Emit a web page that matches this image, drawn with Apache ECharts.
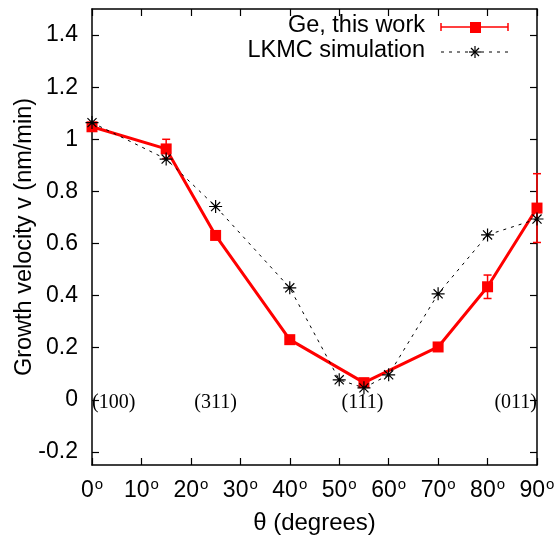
<!DOCTYPE html>
<html>
<head>
<meta charset="utf-8">
<script src="https://cdn.jsdelivr.net/npm/echarts@6/dist/echarts.min.js"></script>
<style>html,body{margin:0;padding:0;background:#fff}#c{width:558px;height:539px}</style>
</head>
<body>
<div id="c"></div>
<script>
// ---- data ----
const geTheta = [0, 15, 25, 40, 55, 70, 80, 90];
const geV = [1.048, 0.963, 0.631, 0.231, 0.066, 0.203, 0.434, 0.736];
const geErr = [0, 0.037, 0, 0, 0, 0, 0.045, 0.132];
const lkmcTheta = [0, 15, 25, 40, 50, 55, 60, 70, 80, 90];
const lkmcV = [1.064, 0.924, 0.742, 0.43, 0.077, 0.046, 0.096, 0.407, 0.633, 0.694];
const planeLabels = ['(100)', '(311)', '(111)', '(011)'];
const planeTheta = [0, 25, 54.7, 90];
const planeAlign = ['left', 'center', 'center', 'right'];
const xTicks = [0, 10, 20, 30, 40, 50, 60, 70, 80, 90];
const yTicks = [-0.2, 0, 0.2, 0.4, 0.6, 0.8, 1, 1.2, 1.4];
const seriesNames = ['Ge, this work', 'LKMC simulation'];

const FONT = 'Liberation Sans';
const chart = echarts.init(document.getElementById('c'), null, {renderer: 'canvas'});

const geData = geTheta.map((t, i) => [t, geV[i]]);
const errData = geTheta.map((t, i) => [t, geV[i], geErr[i]]);
const lkmcData = lkmcTheta.map((t, i) => [t, lkmcV[i]]);
const labelData = planeTheta.map((t, i) => [t, 0, i]);

const starPath = 'path://M0,5L10,5M5,0L5,10M1.5,1.5L8.5,8.5M8.5,1.5L1.5,8.5';

const axisLine = {show: true, onZero: false, lineStyle: {color: '#000', width: 1.5}};
const tick = {show: true, inside: true, length: 7, lineStyle: {color: '#000', width: 1.2}};

const option = {
  animation: false,
  backgroundColor: '#fff',
  grid: {left: 92, right: 21, top: 9, bottom: 74, containLabel: false, outerBoundsMode: 'none'},
  xAxis: [{
    type: 'value', min: 0, max: 90, interval: 10, position: 'bottom',
    axisLine: axisLine, axisTick: tick, splitLine: {show: false},
    axisLabel: {
      margin: 14,
      formatter: v => '{a|' + v + '}{s|o}',
      rich: {
        a: {fontFamily: FONT, fontSize: 23, color: '#000', lineHeight: 24},
        s: {fontFamily: FONT, fontSize: 15, color: '#000', lineHeight: 24, padding: [0, 0, 12, 1]}
      }
    },
    name: 'θ (degrees)', nameLocation: 'middle', nameGap: 46, nameMoveOverlap: false,
    nameTextStyle: {fontFamily: FONT, fontSize: 24, color: '#000'}
  }, {
    type: 'value', min: 0, max: 90, interval: 10, position: 'top',
    axisLine: axisLine, axisTick: tick, axisLabel: {show: false}, splitLine: {show: false}
  }],
  yAxis: [{
    type: 'value', min: -0.25, max: 1.5, position: 'left',
    axisLine: axisLine,
    axisTick: Object.assign({}, tick, {customValues: yTicks}),
    splitLine: {show: false},
    axisLabel: {customValues: yTicks, fontFamily: FONT, fontSize: 23, color: '#000', margin: 14,
      formatter: v => String(Math.round(v * 10) / 10)},
    name: 'Growth velocity v (nm/min)', nameLocation: 'middle', nameGap: 55, nameMoveOverlap: false,
    nameTextStyle: {fontFamily: FONT, fontSize: 23.5, color: '#000'}
  }, {
    type: 'value', min: -0.25, max: 1.5, position: 'right',
    axisLine: axisLine,
    axisTick: Object.assign({}, tick, {customValues: yTicks}),
    axisLabel: {show: false}, splitLine: {show: false}
  }],
  series: [
    {
      name: seriesNames[0] + ' err', type: 'custom', z: 2,
      data: errData,
      renderItem: function (params, api) {
        const x = api.value(0), y = api.value(1), e = api.value(2);
        if (!e) return null;
        const t = api.coord([x, y + e]);
        const b = api.coord([x, y - e]);
        const w = 4;
        const st = {stroke: '#f00', lineWidth: 1.5};
        return {type: 'group', children: [
          {type: 'line', shape: {x1: t[0], y1: t[1], x2: b[0], y2: b[1]}, style: st},
          {type: 'line', shape: {x1: t[0] - w, y1: t[1], x2: t[0] + w, y2: t[1]}, style: st},
          {type: 'line', shape: {x1: b[0] - w, y1: b[1], x2: b[0] + w, y2: b[1]}, style: st}
        ]};
      }
    },
    {
      name: seriesNames[0], type: 'line', z: 3, data: geData,
      symbol: 'rect', symbolSize: 11, showAllSymbol: true,
      lineStyle: {color: '#f00', width: 3},
      itemStyle: {color: '#f00'}
    },
    {
      name: seriesNames[1], type: 'line', z: 4, data: lkmcData,
      symbol: starPath, symbolSize: 13, showAllSymbol: true,
      lineStyle: {color: '#000', width: 1, type: [3, 5]},
      itemStyle: {color: 'none', borderColor: '#000', borderWidth: 1.2}
    },
    {
      name: 'planes', type: 'custom', z: 5, data: labelData, silent: true,
      renderItem: function (params, api) {
        const p = api.coord([api.value(0), api.value(1)]);
        const i = api.value(2);
        return {type: 'text', x: p[0], y: p[1] + 3, style: {
          text: planeLabels[i], font: '20px "Liberation Serif"', fill: '#000',
          align: planeAlign[i], verticalAlign: 'middle'}};
      }
    }
  ],
  graphic: [
    {type: 'text', right: 558 - 425, top: 14, style: {text: seriesNames[0], font: '23.5px "Liberation Sans"', fill: '#000'}},
    {type: 'text', right: 558 - 425, top: 39, style: {text: seriesNames[1], font: '23.5px "Liberation Sans"', fill: '#000'}},
    {type: 'line', shape: {x1: 441, y1: 27, x2: 508, y2: 27}, style: {stroke: '#f00', lineWidth: 1.5}},
    {type: 'line', shape: {x1: 441, y1: 23, x2: 441, y2: 31}, style: {stroke: '#f00', lineWidth: 1.5}},
    {type: 'line', shape: {x1: 508, y1: 23, x2: 508, y2: 31}, style: {stroke: '#f00', lineWidth: 1.5}},
    {type: 'rect', shape: {x: 470, y: 22, width: 11, height: 11}, style: {fill: '#f00'}},
    {type: 'line', shape: {x1: 441, y1: 52, x2: 508, y2: 52}, style: {stroke: '#000', lineWidth: 1, lineDash: [3, 5]}},
    {type: 'group', x: 469, y: 46, children: [
      {type: 'line', shape: {x1: 0, y1: 6, x2: 12, y2: 6}, style: {stroke: '#000', lineWidth: 1.2}},
      {type: 'line', shape: {x1: 6, y1: 0, x2: 6, y2: 12}, style: {stroke: '#000', lineWidth: 1.2}},
      {type: 'line', shape: {x1: 2, y1: 2, x2: 10, y2: 10}, style: {stroke: '#000', lineWidth: 1.2}},
      {type: 'line', shape: {x1: 10, y1: 2, x2: 2, y2: 10}, style: {stroke: '#000', lineWidth: 1.2}}
    ]}
  ]
};
chart.setOption(option);
</script>
</body>
</html>
